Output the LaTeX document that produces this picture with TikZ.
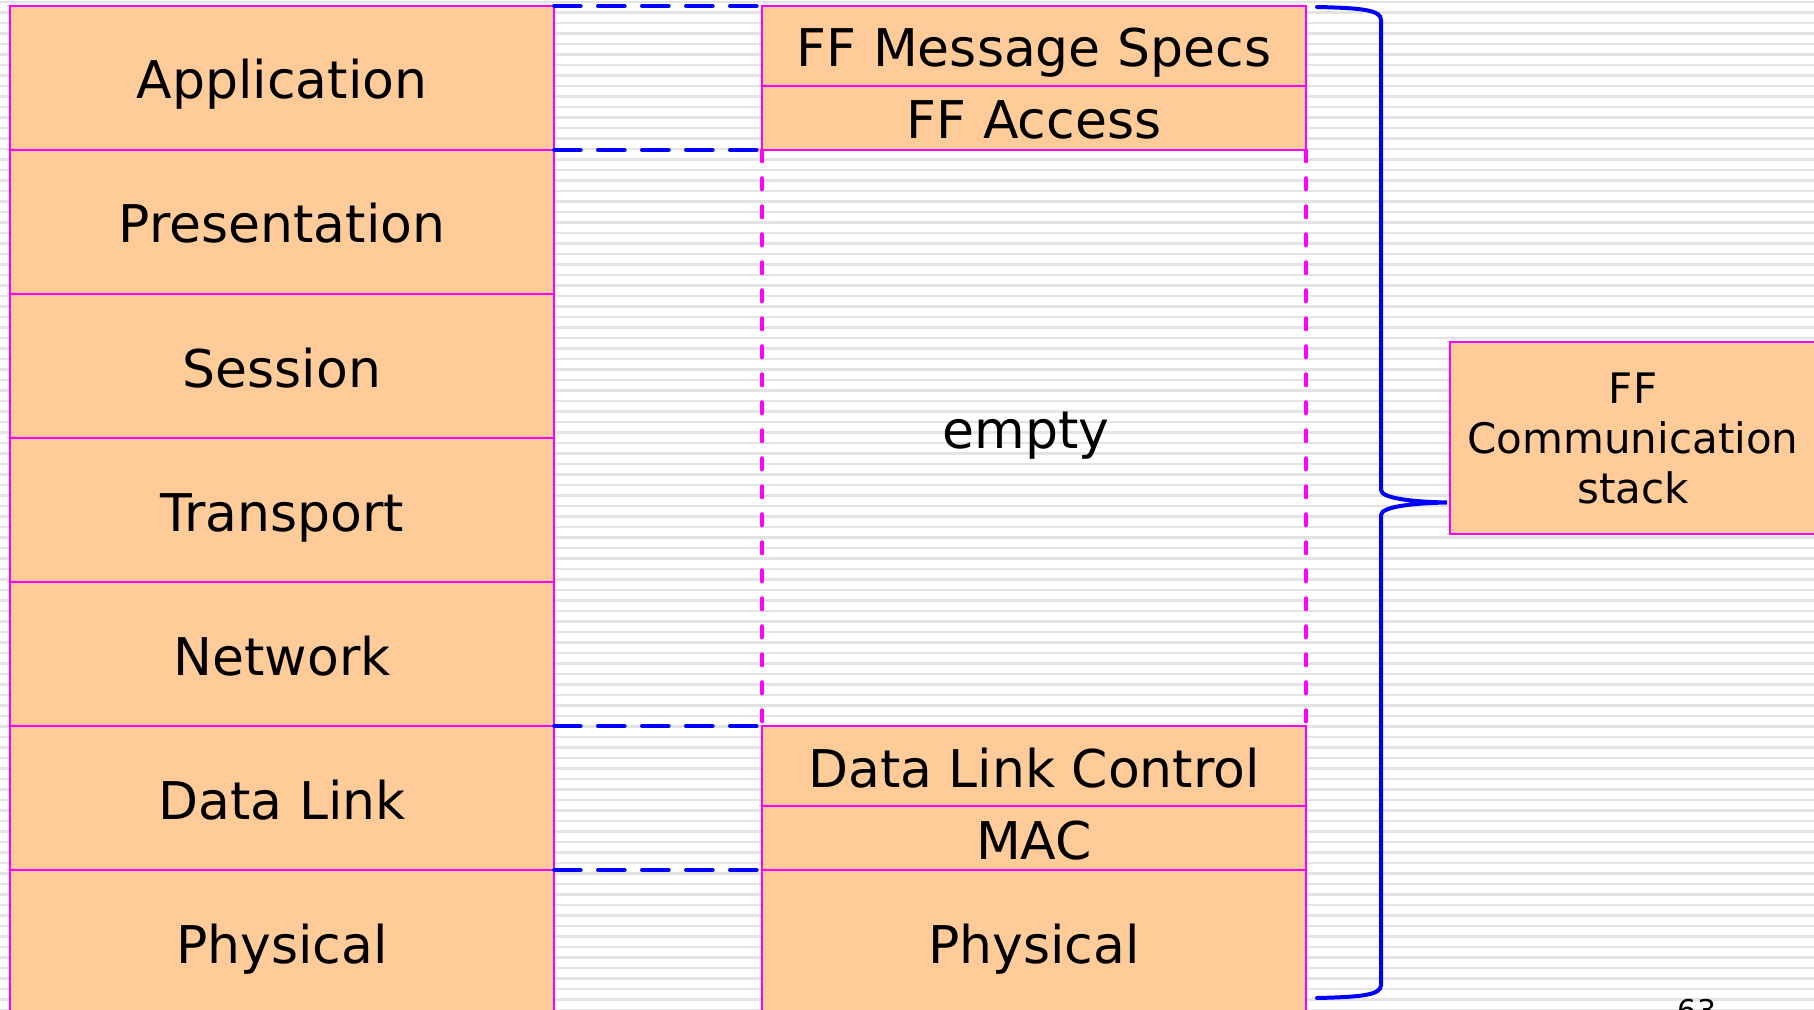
\documentclass[tikz,border=0pt]{standalone}
\usepackage{fontspec}
\setmainfont{DejaVu Sans}
\usepackage{xcolor}
\usepackage{tikz}
\definecolor{peach}{HTML}{FFCC99}
\definecolor{pinkline}{HTML}{FF00FF}
\definecolor{braceblue}{HTML}{0000FF}

\begin{document}
\begin{tikzpicture}[
  x=0.5pt, y=-0.5pt,
  bigtext/.style={font=\fontsize{26}{31}\selectfont, text height=26pt, text depth=5pt},
  layer/.style={draw=pinkline, fill=peach, line width=1pt, inner sep=0pt, outer sep=0pt,
    minimum width=272pt, bigtext},
  osi/.style={layer, minimum height=72pt},
  thick layer/.style={layer, minimum height=40pt},
  thin layer/.style={layer, minimum height=32pt},
  linkdash/.style={draw=braceblue, line width=2pt, dash pattern=on 13.3pt off 8.7pt, line cap=round},
  gapdash/.style={draw=pinkline, line width=1.7pt, dash pattern=on 5.8pt off 8.2pt, line cap=round},
  stripe/.style={draw=black!11, line width=1.1pt}
]
  \useasboundingbox (0,0) rectangle (1814,1010);
  \clip (0,0) rectangle (1814,1010);
  \fill[white] (0,0) rectangle (1814,1010);
  \foreach \y in {2,12.5,...,1010}
    \draw[stripe] (0,\y) -- (1814,\y);

  % OSI reference model
  \foreach \name/\txt [count=\i from 0] in {app/Application, pres/Presentation,
      sess/Session, trans/Transport, net/Network, dl/Data Link, phys/Physical}
    \node[osi] (\name) at (282,78+144*\i) {\txt};

  % FF stack
  \node[thick layer] (specs) at (1034,46) {FF Message Specs};
  \node[thin layer] (access) at (1034,118) {FF Access};
  \node[bigtext, inner sep=0pt] (empty) at (1026,427) {empty};
  \node[thick layer] (dlc) at (1034,766) {Data Link Control};
  \node[thin layer] (mac) at (1034,838) {MAC};
  \node[osi] (ffphys) at (1034,942) {Physical};

  \draw[gapdash] (access.south west) -- (dlc.north west);
  \draw[gapdash] (access.south east) -- (dlc.north east);

  \draw[linkdash] (app.north east) -- (specs.north west);
  \draw[linkdash] (app.south east) -- (access.south west);
  \draw[linkdash] (net.south east) -- (dlc.north west);
  \draw[linkdash] (dl.south east) -- (mac.south west);

  % brace
  \node[layer, minimum width=183pt, minimum height=96pt, align=center,
    font=\fontsize{21}{25}\selectfont, text height=, text depth=] (stack) at (1633,438) {FF\\Communication\\stack};
  \draw[braceblue, line width=2pt, line cap=round]
    (1317,7) .. controls (1362,8) and (1381,10) .. (1381,20) -- (1381,490)
    .. controls (1381,499) and (1418,502) .. (1447,502.5)
    .. controls (1418,503) and (1381,506) .. (1381,515) -- (1381,985)
    .. controls (1381,995) and (1362,997) .. (1317,998);

  \node[font=\fontsize{15}{18}\selectfont, anchor=base, inner sep=0pt] (page) at (1697,1021) {63};
\end{tikzpicture}
\end{document}
